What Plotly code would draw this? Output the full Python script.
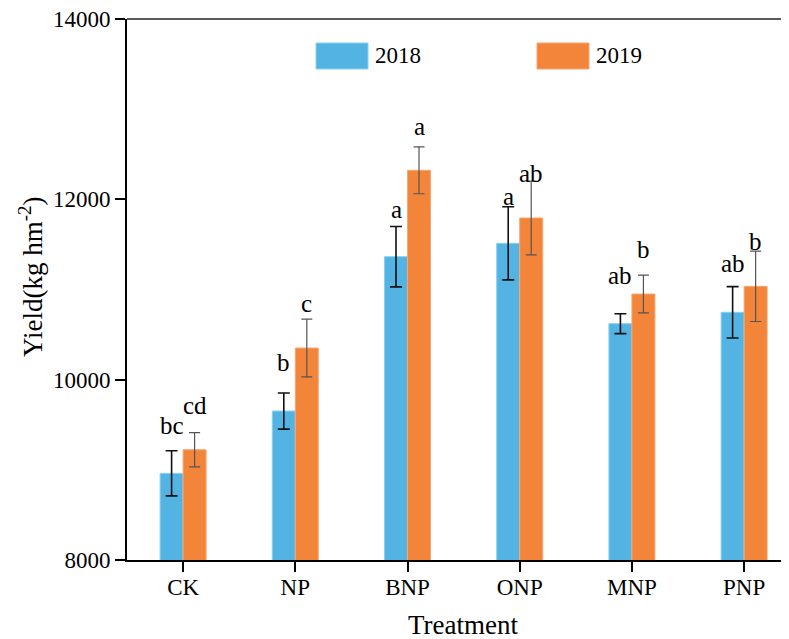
import plotly.graph_objects as go

treatments = ["CK", "NP", "BNP", "ONP", "MNP", "PNP"]
yield_2018 = [8961, 9652, 11364, 11512, 10621, 10747]
err_2018 = [250, 200, 335, 405, 110, 285]
yield_2019 = [9223, 10351, 12322, 11793, 10950, 11035]
err_2019 = [190, 320, 260, 410, 210, 390]
letters_2018 = ["bc", "b", "a", "a", "ab", "ab"]
letters_2019 = ["cd", "c", "a", "ab", "b", "b"]
letter_y_2018 = [9497, 10186, 11882, 12030, 11150, 11291]
letter_y_2019 = [9719, 10850, 12806, 12292, 11446, 11531]
y_ticks = [8000, 10000, 12000, 14000]

BLUE = "#53B4E4"
ORANGE = "#F2853A"
FONT = "Liberation Serif"

OFF = 8  # page body margin in the browser
# target plot area in screenshot pixels: x 127..789, y 19..560
L, T = 127 - OFF, 19 - OFF
pw, ph = 789 - 127, 560 - 19
W = L + pw
H = 639 - OFF
B = H - T - ph

def px_x(px):
    return (px - OFF - L) / pw

def px_y(py):
    return (T + ph - (py - OFF)) / ph

fig = go.Figure()
fig.add_trace(go.Bar(
    x=list(range(len(treatments))), y=yield_2018, name="2018",
    marker=dict(color=BLUE, line=dict(color="#86D0F2", width=1)),
    error_y=dict(type="data", array=err_2018, color="#111111", thickness=1.6, width=6),
    showlegend=False,
))
fig.add_trace(go.Bar(
    x=list(range(len(treatments))), y=yield_2019, name="2019",
    marker=dict(color=ORANGE, line=dict(color="#F8A673", width=1)),
    error_y=dict(type="data", array=err_2019, color="#555555", thickness=1.2, width=5.5),
    showlegend=False,
))

bargap = 0.59
half = (1 - bargap) / 4
for i in range(len(treatments)):
    fig.add_annotation(x=i - half, y=letter_y_2018[i], text=letters_2018[i],
                       showarrow=False, xref="x", yref="y", yanchor="middle",
                       font=dict(family=FONT, size=25, color="black"))
    fig.add_annotation(x=i + half, y=letter_y_2019[i], text=letters_2019[i],
                       showarrow=False, xref="x", yref="y", yanchor="middle",
                       font=dict(family=FONT, size=25, color="black"))

# top frame line
fig.add_shape(type="line", xref="paper", yref="paper", x0=0, x1=1, y0=1, y1=1,
              line=dict(color="#222222", width=1.5))

# legend (drawn manually to match large swatches)
for x0, x1, col, edge, label, tx in [
    (316, 368, BLUE, "#86D0F2", "2018", 373),
    (537, 589, ORANGE, "#F8A673", "2019", 594),
]:
    fig.add_shape(type="rect", xref="paper", yref="paper",
                  x0=px_x(x0), x1=px_x(x1), y0=px_y(69), y1=px_y(43),
                  fillcolor=col, line=dict(color=edge, width=1))
    fig.add_annotation(x=px_x(tx), y=px_y(56), xref="paper", yref="paper",
                       text=label, showarrow=False, xanchor="left", yanchor="middle",
                       font=dict(family=FONT, size=23, color="black"))

# axis titles
fig.add_annotation(x=px_x(31), y=px_y(276), xref="paper", yref="paper",
                   text="Yield(kg hm<sup>-2</sup>)", showarrow=False, textangle=-90,
                   xanchor="center", yanchor="middle",
                   font=dict(family=FONT, size=27, color="black"))
fig.add_annotation(x=px_x(463), y=px_y(625), xref="paper", yref="paper",
                   text="Treatment", showarrow=False, xanchor="center", yanchor="middle",
                   font=dict(family=FONT, size=27, color="black"))

fig.update_layout(
    width=W, height=H,
    margin=dict(l=L, r=0, t=T, b=B, pad=0),
    paper_bgcolor="white", plot_bgcolor="white",
    barmode="group", bargap=bargap, bargroupgap=0,
    font=dict(family=FONT, size=22, color="black"),
)
fig.update_xaxes(
    range=[-0.5, 5.4], tickvals=list(range(len(treatments))), ticktext=treatments,
    showline=True, linecolor="black", linewidth=2,
    ticks="outside", ticklen=10, tickwidth=2, tickcolor="black",
    showgrid=False, zeroline=False, ticklabeloverflow="allow",
    ticklabelstandoff=-5,
    tickfont=dict(family=FONT, size=23, color="black"),
)
fig.update_yaxes(
    range=[8000, 14000], tickvals=y_ticks, tickformat="d",
    showline=True, linecolor="black", linewidth=2,
    ticks="outside", ticklen=10, tickwidth=2, tickcolor="black",
    showgrid=False, zeroline=False, ticklabeloverflow="allow",
    tickfont=dict(family=FONT, size=23, color="black"),
)

fig.write_html("out.html")
